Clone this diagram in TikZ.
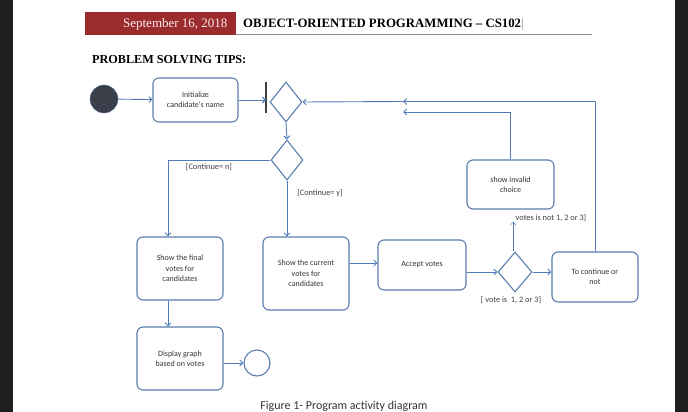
\documentclass[tikz,border=0pt]{standalone}
\usepackage{fontspec}
\setmainfont{Liberation Serif}
\newfontfamily\boxfont{Carlito}
\usepackage{xcolor}
\usetikzlibrary{arrows.meta,positioning,shapes.geometric}
\definecolor{umlline}{HTML}{5A7DAE}
\definecolor{umlarrow}{HTML}{4F7CB8}
\definecolor{headred}{HTML}{9C2B2E}
\definecolor{starfill}{HTML}{3A3E48}

\begin{document}
\begin{tikzpicture}[
	x=1pt, y=-1pt,
	every node/.style={font=\boxfont\fontsize{8}{10.5}\selectfont, text=black!80},
	activity/.style={draw=umlline, line width=1.1pt, rounded corners=6pt, align=center, inner sep=2pt},
	decision/.style={draw=umlline, line width=1.1pt, diamond, minimum width=32pt, minimum height=40pt, inner sep=0pt},
	arrow/.style={-{Straight Barb[length=3pt,width=6pt]}, umlarrow, line width=0.9pt},
	guard/.style={font=\boxfont\fontsize{8.3}{10}\selectfont, text=black!75}
	]
	
	% page and header
	\useasboundingbox (0,0) rectangle (688,412);
	\fill[black!88] (0,0) rectangle (13,412);
	\fill[black!88] (675,0) rectangle (688,412);
	\fill[headred] (85,12) rectangle (236,35);
	\draw[black!45, thick] (236,34.5) -- (592,34.5);
	\node[anchor=east, font=\fontsize{13}{15}\selectfont, text=red!8] (date) at (231,24) {September 16, 2018};
	\node[anchor=west, font=\bfseries\fontsize{12.8}{15}\selectfont, text=black, inner sep=0pt] (course) at (243,24) {OBJECT-ORIENTED PROGRAMMING -- CS102\textcolor{black!35}{|}};
	\node[anchor=west, font=\bfseries\fontsize{12.2}{14}\selectfont, text=black, inner sep=0pt] (tips) at (92,60) {PROBLEM SOLVING TIPS:};
	
	% nodes
	\node[circle, draw=umlline, fill=starfill, minimum size=28pt, inner sep=0pt] (start) at (104,99) {};
	\node[activity, minimum width=85pt, minimum height=44pt] (init) at (195.5,100) {Initialize\\candidate's name};
	\node[inner sep=0pt, minimum width=0pt, minimum height=31pt] (bar) at (266,97.5) {};
	\node[decision] (d1) at (286,102) {};
	\node[decision] (d2) at (287,160) {};
	\node[activity, minimum width=86pt, minimum height=63pt] (final) at (180,268.5) {Show the final\\votes for\\candidates};
	\node[activity, minimum width=86pt, minimum height=73pt] (current) at (306,273.5) {Show the current\\votes for\\candidates};
	\node[activity, minimum width=88pt, minimum height=50pt] (accept) at (422,265) {Accept votes};
	\node[decision, minimum width=34pt] (d3) at (515,272) {};
	\node[activity, minimum width=86pt, minimum height=50pt] (cont) at (595,277) {To continue or\\not};
	\node[activity, minimum width=87pt, minimum height=49pt] (invalid) at (510.5,184.5) {show invalid\\choice};
	\node[activity, minimum width=86pt, minimum height=63pt] (display) at (180,358.5) {Display graph\\based on votes};
	\node[circle, draw=umlline, line width=1.1pt, minimum size=26pt, inner sep=0pt] (end) at (257,363) {};
	\coordinate (merge) at (403,101.5);
	\coordinate (merge2) at (403,112);
	\coordinate (notok) at (513,222);
	
	% guards
	\node[guard] (gn) at (209,167) {[Continue= n]};
	\node[guard] (gy) at (320,193) {[Continue= y]};
	\node[guard] (gok) at (511,300) {[ vote is\ \ 1, 2 or 3]};
	\node[guard] (gnot) at (551,218) {votes is not 1, 2 or 3]};
	\node[font=\boxfont\fontsize{12}{14}\selectfont, text=black!80] (caption) at (344,406) {Figure 1- Program activity diagram};
	
	% flows
	\draw[line width=1.1pt, black!75] (bar.north) -- (bar.south);
	\draw[arrow] (start) -- (init);
	\draw[arrow] (init.east) -- (init.east -| bar);
	\draw[arrow] (cont.north) |- (merge);
	\draw[arrow] (invalid.north) |- (merge2);
	\draw[arrow] (merge) -- (d1.east);
	\draw[arrow] (d1.south) -- (d2.north);
	\draw[arrow] (d2.west) -| ([xshift=-12pt]final.north);
	\draw[arrow] (d2.south) -- (d2.south |- current.north);
	\draw[arrow] ([yshift=2pt]current.east |- accept.west) -- ([yshift=2pt]accept.west);
	\draw[arrow] (accept.east |- d3) -- (d3.west);
	\draw[arrow] (d3.east) -- (cont.west |- d3);
	\draw[arrow, thin] (d3.north -| notok) -- (notok);
	\draw[arrow] ([xshift=-12pt]final.south) -- ([xshift=-12pt]display.north);
	\draw[arrow] (display.east |- end) -- (end.west);
	
\end{tikzpicture}
\end{document}
